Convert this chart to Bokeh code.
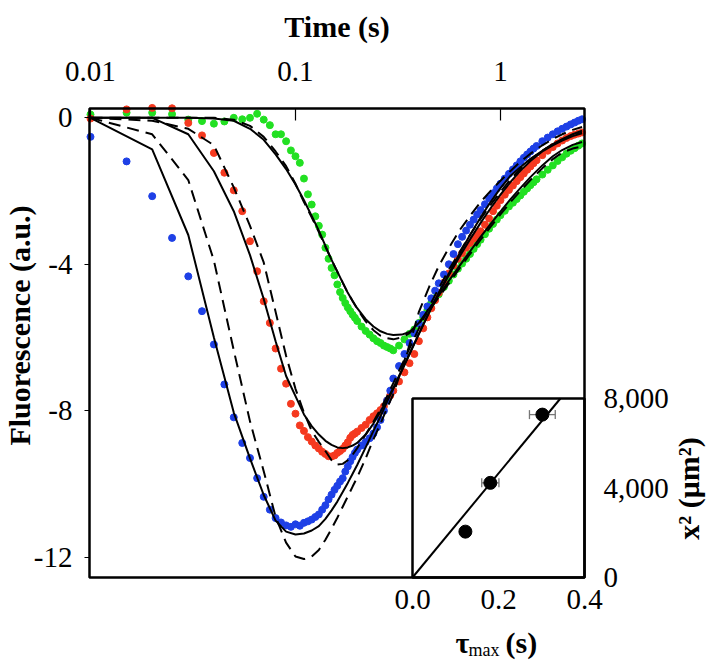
from math import pi, log10
from bokeh.plotting import figure
from bokeh.models import Range1d, LinearAxis, LinearScale, FixedTicker, Label
from bokeh.embed import file_html
from bokeh.resources import INLINE

# ---------------- data ----------------
time_ticks = [0.01, 0.1, 1]
time_tick_labels = ["0.01", "0.1", "1"]
fluor_ticks = [0, -4, -8, -12]
fluor_tick_labels = ["0", "-4", "-8", "-12"]
time_limits = [0.00989, 2.57]        # extent of the main axes
fluor_limits = [-12.553, 0.254]

t_obs = [0.010, 0.015, 0.020, 0.025, 0.030, 0.035, 0.040, 0.045, 0.050, 0.055,
         0.060, 0.065, 0.070, 0.075, 0.080, 0.085, 0.090, 0.095, 0.100, 0.105,
         0.110, 0.115, 0.120, 0.125, 0.130, 0.135, 0.140, 0.145, 0.150, 0.155,
         0.160, 0.165, 0.170, 0.175, 0.180, 0.185, 0.190, 0.195, 0.200,
         0.21, 0.22, 0.23, 0.24, 0.25, 0.26, 0.27, 0.28, 0.29, 0.30,
         0.32, 0.34, 0.36, 0.38, 0.40, 0.42, 0.44, 0.46, 0.48, 0.50,
         0.53, 0.56, 0.59, 0.62, 0.65, 0.68, 0.71, 0.74, 0.77, 0.80,
         0.84, 0.88, 0.92, 0.96, 1.00,
         1.05, 1.10, 1.15, 1.20, 1.25, 1.30, 1.35, 1.40, 1.45, 1.50,
         1.6, 1.7, 1.8, 1.9, 2.0, 2.1, 2.2, 2.3, 2.4, 2.5]

blue_obs = [-0.52, -1.19, -2.14, -3.28, -4.33, -5.28, -6.19, -7.28, -8.18, -8.88,
            -9.29, -9.84, -10.35, -10.70, -10.93, -11.05, -11.13, -11.17, -11.10, -11.14,
            -11.06, -11.02, -10.97, -10.90, -10.83, -10.70, -10.58, -10.42, -10.29, -10.16,
            -10.05, -9.93, -9.84, -9.66, -9.52, -9.38, -9.26, -9.15, -9.06,
            -8.95, -8.85, -8.75, -8.62, -8.45, -8.25, -8.00, -7.72, -7.45, -7.12,
            -6.78, -6.45, -6.15, -5.88, -5.62, -5.38, -5.15, -4.93, -4.72, -4.52,
            -4.28, -4.00, -3.72, -3.45, -3.25, -3.08, -2.92, -2.78, -2.64, -2.52,
            -2.36, -2.20, -2.06, -1.93, -1.80,
            -1.66, -1.53, -1.41, -1.30, -1.19, -1.09, -1.00, -0.92, -0.84, -0.77,
            -0.64, -0.54, -0.45, -0.37, -0.30, -0.24, -0.18, -0.13, -0.08, -0.04]

red_obs = [-0.02, 0.23, 0.27, 0.26, -0.14, -0.48, -0.96, -1.50, -1.98, -2.55,
           -3.37, -4.19, -5.01, -5.60, -6.30, -6.85, -7.26, -7.81, -8.08, -8.40,
           -8.55, -8.72, -8.84, -8.95, -9.03, -9.12, -9.18, -9.24, -9.25, -9.22,
           -9.15, -9.10, -9.04, -8.95, -8.86, -8.74, -8.66, -8.62, -8.57,
           -8.47, -8.38, -8.25, -8.15, -8.07, -7.98, -7.88, -7.72, -7.58, -7.45,
           -7.20, -6.95, -6.70, -6.45, -6.10, -5.75, -5.45, -5.20, -4.98, -4.78,
           -4.50, -4.25, -4.03, -3.85, -3.70, -3.55, -3.42, -3.30, -3.20, -3.10,
           -2.92, -2.75, -2.55, -2.40, -2.25,
           -2.10, -1.97, -1.85, -1.73, -1.62, -1.52, -1.42, -1.33, -1.24, -1.16,
           -1.02, -0.90, -0.80, -0.70, -0.62, -0.55, -0.50, -0.46, -0.43, -0.40]

green_obs = [0.09, 0.14, 0.14, 0.10, -0.05, -0.09, -0.16, -0.10, 0.00, -0.04,
             0.00, 0.11, -0.05, -0.20, -0.45, -0.45, -0.64, -0.89, -1.05, -1.23,
             -1.66, -2.09, -2.37, -2.69, -2.95, -3.19, -3.55, -3.85, -4.10, -4.30,
             -4.55, -4.76, -4.92, -5.06, -5.18, -5.28, -5.38, -5.46, -5.55,
             -5.70, -5.82, -5.92, -6.02, -6.10, -6.15, -6.22, -6.26, -6.30, -6.35,
             -6.22, -6.05, -5.90, -5.78, -5.60, -5.45, -5.25, -5.05, -4.92, -4.82,
             -4.62, -4.45, -4.28, -4.12, -3.98, -3.85, -3.72, -3.58, -3.45, -3.33,
             -3.18, -3.03, -2.90, -2.78, -2.66,
             -2.54, -2.42, -2.32, -2.22, -2.12, -2.02, -1.93, -1.84, -1.76, -1.68,
             -1.55, -1.42, -1.30, -1.18, -1.08, -0.98, -0.90, -0.83, -0.76, -0.70]

t_fit = [0.01, 0.02, 0.03, 0.04, 0.05, 0.06, 0.07, 0.08, 0.09, 0.10,
         0.11, 0.12, 0.13, 0.14, 0.15, 0.16, 0.17, 0.18, 0.19, 0.20,
         0.22, 0.24, 0.26, 0.28, 0.30, 0.33, 0.36, 0.40, 0.45, 0.50,
         0.56, 0.63, 0.71, 0.80, 0.90, 1.00, 1.12, 1.25, 1.40, 1.60,
         1.80, 2.00, 2.25, 2.50]

blue_solid = [0.0, -0.86, -3.2, -6.0, -8.05, -9.3, -10.3, -11.0, -11.3, -11.38,
              -11.35, -11.27, -11.15, -10.95, -10.72, -10.48, -10.22, -9.97, -9.72, -9.48,
              -9.0, -8.55, -8.15, -7.75, -7.4, -6.9, -6.45, -5.9, -5.3, -4.78,
              -4.25, -3.72, -3.2, -2.72, -2.28, -1.92, -1.58, -1.35, -1.12, -0.9,
              -0.72, -0.58, -0.45, -0.35]

blue_dashed = [0.0, -0.45, -1.7, -3.9, -6.35, -8.29, -9.65, -10.9, -11.6, -11.98,
               -12.05, -11.98, -11.8, -11.52, -11.22, -10.92, -10.62, -10.34, -10.07, -9.82,
               -9.3, -8.78, -8.35, -7.92, -7.55, -6.85, -6.2, -5.3, -4.6, -4.05,
               -3.55, -3.08, -2.68, -2.3, -1.98, -1.72, -1.45, -1.2, -0.98, -0.75,
               -0.58, -0.45, -0.33, -0.25]

red_solid = [0.0, 0.0, -0.45, -1.46, -2.55, -3.75, -4.95, -6.1, -7.05, -7.6,
             -8.1, -8.42, -8.65, -8.82, -8.93, -9.0, -9.02, -9.0, -8.95, -8.88,
             -8.65, -8.35, -8.02, -7.7, -7.38, -6.9, -6.45, -5.9, -5.3, -4.8,
             -4.3, -3.8, -3.32, -2.87, -2.45, -2.1, -1.75, -1.45, -1.18, -0.92,
             -0.75, -0.62, -0.5, -0.42]

red_dashed = [0.0, -0.08, -0.3, -0.75, -1.9, -2.95, -3.95, -5.3, -6.5, -7.4,
              -8.05, -8.55, -8.85, -9.1, -9.35, -9.47, -9.45, -9.35, -9.2, -9.02,
              -8.65, -8.3, -7.95, -7.6, -7.25, -6.75, -6.3, -5.75, -5.15, -4.65,
              -4.15, -3.68, -3.2, -2.76, -2.36, -2.02, -1.68, -1.4, -1.14, -0.9,
              -0.72, -0.6, -0.48, -0.4]

green_solid = [0.0, 0.0, 0.0, -0.02, -0.08, -0.3, -0.6, -1.0, -1.4, -1.82,
               -2.25, -2.68, -3.08, -3.5, -3.88, -4.2, -4.5, -4.78, -5.0, -5.2,
               -5.5, -5.7, -5.83, -5.9, -5.93, -5.92, -5.85, -5.6, -5.2, -4.85,
               -4.45, -4.05, -3.65, -3.25, -2.88, -2.56, -2.22, -1.92, -1.62, -1.3,
               -1.05, -0.88, -0.74, -0.66]

green_dashed = [0.0, 0.0, 0.0, 0.0, -0.05, -0.22, -0.52, -0.92, -1.32, -1.8,
                -2.3, -2.72, -3.12, -3.52, -3.88, -4.2, -4.5, -4.78, -5.0, -5.22,
                -5.56, -5.8, -5.95, -6.02, -6.05, -6.0, -5.88, -5.62, -5.25, -4.9,
                -4.52, -4.12, -3.72, -3.33, -2.96, -2.64, -2.3, -2.0, -1.7, -1.38,
                -1.13, -0.95, -0.84, -0.78]

# inset: x^2 versus tau_max
tau_ticks = [0.0, 0.2, 0.4]
tau_tick_labels = ["0.0", "0.2", "0.4"]
xsq_ticks = [0, 4000, 8000]
xsq_tick_labels = ["0", "4,000", "8,000"]
tau_max = [0.123, 0.181, 0.302]
x_sq = [2050, 4230, 7280]
tau_err = [0.0, 0.02, 0.03]
fit_slope = 23260.0

# ---------------- layout geometry (pixels) ----------------
W, H = 708, 662
FL, FR, FT, FB = 89, 584, 108, 577          # main panel box
IL, IR, IT, IB = 412, 584, 398, 577         # inset box

lx0, lx1 = log10(time_limits[0]), log10(time_limits[1])
ppd = (FR - FL) / (lx1 - lx0)
x_start, x_end = 10 ** (lx0 - FL / ppd), 10 ** (lx1 + (W - FR) / ppd)
ppy = (FB - FT) / (fluor_limits[1] - fluor_limits[0])
y_start, y_end = fluor_limits[0] - (H - FB) / ppy, fluor_limits[1] + FT / ppy
ppt = (IR - IL) / (tau_ticks[-1] - tau_ticks[0])
t_start, t_end = tau_ticks[0] - IL / ppt, tau_ticks[-1] + (W - IR) / ppt
ppq = (IB - IT) / (xsq_ticks[-1] - xsq_ticks[0])
q_start, q_end = xsq_ticks[0] - (H - IB) / ppq, xsq_ticks[-1] + IT / ppq

def tau_at(px):
    return tau_ticks[0] + (px - IL) / ppt

def xsq_at(py):
    return xsq_ticks[0] + (IB - py) / ppq

# ---------------- styling ----------------
FONT = "Liberation Serif"
BLUE = "#1e40e6"
RED = "#f5391f"
GREEN = "#22e022"
DASH = "12 7"
TICK_FS = "29px"

p = figure(width=W, height=H, x_axis_type="log", x_axis_location="above", title=None,
           x_range=Range1d(x_start, x_end), y_range=Range1d(y_start, y_end),
           output_backend="svg", toolbar_location=None, min_border=0,
           min_border_left=0, min_border_right=0, min_border_top=0, min_border_bottom=0)
p.extra_x_ranges = {"tau": Range1d(t_start, t_end)}
p.extra_x_scales = {"tau": LinearScale()}
p.extra_y_ranges = {"xsq": Range1d(q_start, q_end)}
p.grid.visible = False
p.outline_line_color = None
p.background_fill_color = "white"
p.border_fill_color = "white"

xa = p.xaxis[0]
xa.fixed_location = fluor_limits[1]
xa.ticker = FixedTicker(ticks=time_ticks, minor_ticks=[])
xa.major_label_overrides = dict(zip(time_ticks, time_tick_labels))
xa.major_tick_in = 12
xa.major_tick_out = 0
xa.major_tick_line_width = 1.2
xa.axis_line_color = None
xa.minor_tick_line_color = None
xa.major_label_standoff = 28
xa.major_label_text_font = FONT
xa.major_label_text_font_size = TICK_FS
xa.major_label_text_color = "black"

ya = p.yaxis[0]
ya.fixed_location = time_limits[0]
ya.ticker = FixedTicker(ticks=fluor_ticks, minor_ticks=[])
ya.major_label_overrides = dict(zip(fluor_ticks, fluor_tick_labels))
ya.major_tick_in = 0
ya.major_tick_out = 5
ya.major_tick_line_width = 1.2
ya.axis_line_color = None
ya.minor_tick_line_color = None
ya.major_label_standoff = 12
ya.major_label_text_font = FONT
ya.major_label_text_font_size = TICK_FS
ya.major_label_text_color = "black"

ra = LinearAxis(y_range_name="xsq", x_range_name="tau", fixed_location=tau_ticks[-1],
                ticker=FixedTicker(ticks=xsq_ticks, minor_ticks=[]),
                major_label_overrides=dict(zip(xsq_ticks, xsq_tick_labels)),
                axis_line_color=None, major_tick_line_color=None,
                minor_tick_line_color=None, major_label_standoff=13,
                major_label_text_font=FONT, major_label_text_font_size=TICK_FS,
                major_label_text_color="black")
p.add_layout(ra, "right")

ba = LinearAxis(x_range_name="tau", y_range_name="xsq", fixed_location=xsq_ticks[0],
                ticker=FixedTicker(ticks=tau_ticks, minor_ticks=[]),
                major_label_overrides=dict(zip(tau_ticks, tau_tick_labels)),
                axis_line_color=None, major_tick_line_color=None,
                minor_tick_line_color=None, major_label_standoff=6,
                major_label_text_font=FONT, major_label_text_font_size=TICK_FS,
                major_label_text_color="black")
p.add_layout(ba, "below")

# ---------------- main panel ----------------
p.scatter(t_obs, green_obs, size=7, color=GREEN)
p.scatter(t_obs, red_obs, size=7, color=RED)
p.scatter(t_obs, blue_obs, size=7, color=BLUE)

for sol, das in [(blue_solid, blue_dashed), (red_solid, red_dashed), (green_solid, green_dashed)]:
    p.line(t_fit, sol, line_color="black", line_width=2)
    p.line(t_fit, das, line_color="black", line_width=2, line_dash=DASH)

# ---------------- inset ----------------
p.quad(left=[tau_ticks[0]], right=[tau_ticks[-1]], bottom=[xsq_ticks[0]], top=[xsq_ticks[-1]],
       x_range_name="tau", y_range_name="xsq",
       fill_color="white", line_color="black", line_width=2.5)
p.line([0.0, xsq_ticks[-1] / fit_slope], [0.0, xsq_ticks[-1]],
       x_range_name="tau", y_range_name="xsq", line_color="black", line_width=2)
lo = [t - e for t, e in zip(tau_max, tau_err)]
hi = [t + e for t, e in zip(tau_max, tau_err)]
p.segment(x0=lo, y0=x_sq, x1=hi, y1=x_sq, x_range_name="tau", y_range_name="xsq",
          line_color="#777777", line_width=1.3)
p.scatter(lo + hi, x_sq + x_sq, marker="dash", angle=pi / 2, size=9,
          x_range_name="tau", y_range_name="xsq", line_color="#777777", line_width=1.3)
p.scatter(tau_max, x_sq, size=13, color="black", x_range_name="tau", y_range_name="xsq")

# main panel frame
p.quad(left=[time_limits[0]], right=[time_limits[1]], bottom=[fluor_limits[0]], top=[fluor_limits[1]],
       fill_color=None, line_color="black", line_width=2.5)

# ---------------- titles ----------------
def lab(text, px, py, size, style="bold", angle=0.0, align="center", baseline="middle"):
    p.add_layout(Label(x=tau_at(px), y=xsq_at(py), x_range_name="tau", y_range_name="xsq",
                       text=text, text_font=FONT, text_font_size=size, text_font_style=style,
                       angle=angle, text_align=align, text_baseline=baseline,
                       text_color="black"))

lab("Time (s)", (FL + FR) / 2, 26, "30px")
lab("Fluorescence (a.u.)", 19, 325, "30px", angle=pi / 2)
lab("x\u00b2 (\u03bcm\u00b2)", 688, 488, "30px", angle=pi / 2)
lab("\u03c4", 455, 642, "30px", align="left", baseline="alphabetic")
lab("max", 468, 649, "18px", style="normal", align="left", baseline="alphabetic")
lab("(s)", 505, 642, "30px", align="left", baseline="alphabetic")

open("out.html", "w").write(file_html(p, INLINE))
